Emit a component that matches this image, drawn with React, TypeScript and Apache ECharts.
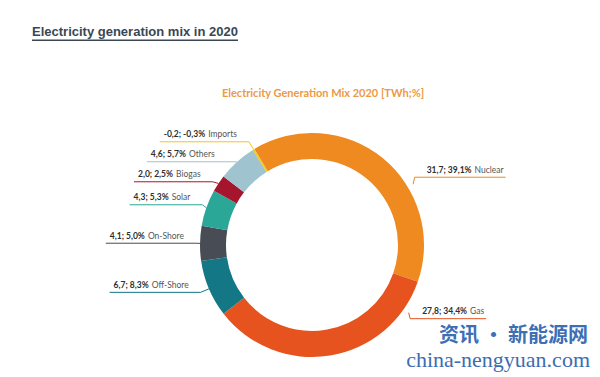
import React, { useEffect, useRef } from "react";
import * as echarts from "echarts";

const categories = ["Nuclear", "Gas", "Off-Shore", "On-Shore", "Solar", "Biogas", "Others", "Imports"];
const twhValues = [31.7, 27.8, 6.7, 4.1, 4.3, 2.0, 4.6, -0.2];
const pctValues = [39.1, 34.4, 8.3, 5.0, 5.3, 2.5, 5.7, -0.3];
const colors = ["#EE8A1F", "#E6531F", "#137786", "#474C55", "#2BA797", "#A5162E", "#9FC3CF", "#F4C51A"];
// label anchor angle (deg clockwise from top) for labels not placed at slice middle
const anchorDeg: (number | null)[] = [59, 125, null, null, null, null, null, null];

const CX = 312;
const CY = 245;

const fmt = (v: number) => v.toFixed(1).replace(".", ",");

export default function App() {
  const ref = useRef<HTMLDivElement>(null);
  useEffect(() => {
    document.body.style.margin = "0";
    const chart = echarts.init(ref.current!, null, { renderer: "svg" });
    const data = categories.map((name, i) => ({
      name,
      value: Math.abs(twhValues[i]),
      itemStyle: { color: colors[i] },
      labelLine: { lineStyle: { color: colors[i] } },
    }));
    chart.setOption({
      animation: false,
      backgroundColor: "#ffffff",
      graphic: [
        {
          type: "text",
          left: 32,
          top: 25,
          style: {
            text: "Electricity generation mix in 2020",
            font: "bold 13px 'Liberation Sans', Arial, sans-serif",
            fill: "#3A4753",
          },
        },
        { type: "rect", shape: { x: 32, y: 39.5, width: 206, height: 1.5 }, style: { fill: "#3A4753" } },
        {
          type: "text",
          x: 588,
          y: 333,
          style: {
            text: "资讯 · 新能源网",
            font: "bold 20px 'Noto Sans CJK SC', sans-serif",
            fill: "#3C6FB5",
            align: "right",
            verticalAlign: "middle",
          },
        },
        {
          type: "text",
          x: 590,
          y: 359,
          style: {
            text: "china-nengyuan.com",
            font: "22px 'Liberation Serif', serif",
            fill: "#3C6DB0",
            align: "right",
            verticalAlign: "middle",
          },
        },
      ],
      title: {
        text: "Electricity Generation Mix 2020 [TWh;%]",
        left: 318,
        top: 82,
        textAlign: "center",
        textStyle: { color: "#EB9A46", fontSize: 11, fontWeight: "bold", fontFamily: "Lato" },
      },
      series: [
        {
          type: "pie",
          center: [CX, CY],
          radius: [86, 112],
          startAngle: 121,
          clockwise: true,
          avoidLabelOverlap: true,
          label: {
            show: true,
            position: "outside",
            minMargin: 8,
            fontFamily: "Lato",
            formatter: (p: any) => {
              const i = p.dataIndex;
              return `{b|${fmt(twhValues[i])}; ${fmt(pctValues[i])}%} {n|${p.name}}`;
            },
            rich: {
              b: { fontWeight: "bold", fontSize: 8.5, color: "#2E2E2E", fontFamily: "Lato" },
              n: { fontSize: 8.5, color: "#555555", fontFamily: "Lato" },
            },
          },
          labelLine: { show: true, length: 9, length2: 12, smooth: false, lineStyle: { width: 1 } },
          labelLayout: (params: any) => {
            const pts = params.labelLinePoints;
            if (!pts) return {};
            const i = params.dataIndex;
            let p0 = pts[0];
            let p1 = pts[1];
            let isLeft = pts[2][0] < p1[0];
            const a = anchorDeg[i];
            if (a != null) {
              const rad = (a * Math.PI) / 180;
              p0 = [CX + 118 * Math.sin(rad), CY - 118 * Math.cos(rad)];
              isLeft = Math.sin(rad) < 0;
              p1 = [p0[0] + 1.5, p0[1] + (Math.cos(rad) > 0 ? -7 : 6)];
            }
            const w = params.labelRect.width;
            const endX = isLeft ? p1[0] - w - 16 : p1[0] + w + 14;
            return {
              x: isLeft ? endX + 4 : endX - 2,
              y: p1[1] - 1.5,
              align: isLeft ? "left" : "right",
              verticalAlign: "bottom",
              labelLinePoints: [p0, p1, [endX, p1[1]]],
            };
          },
          data,
        },
      ],
    });
    return () => chart.dispose();
  }, []);
  return <div ref={ref} style={{ width: 600, height: 377 }} />;
}
